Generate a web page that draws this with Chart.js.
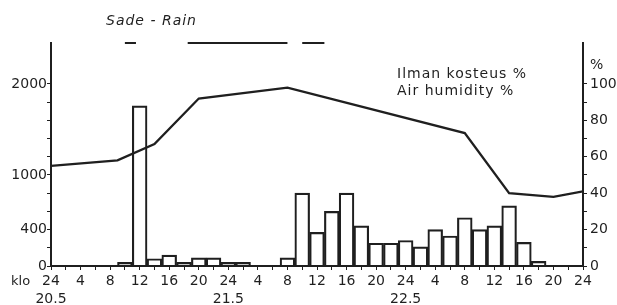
<!DOCTYPE html>
<html>
<head>
<meta charset="utf-8">
<script src="https://cdn.jsdelivr.net/npm/chart.js@4.4.1/dist/chart.umd.min.js"></script>
<style>
  html, body { margin: 0; padding: 0; background: #fff; }
  #wrap { width: 617px; height: 305px; position: relative; }
</style>
</head>
<body>
<div id="wrap"><canvas id="chart"></canvas></div>
<script>
// time in hours, 0 = klo 24 on 20.5, 72 = klo 24 on 22.5
var barHours = [0, 2, 4, 6, 8, 10, 12, 14, 16, 18, 20, 22, 24, 26, 28, 30, 32, 34, 36,
                38, 40, 42, 44, 46, 48, 50, 52, 54, 56, 58, 60, 62, 64, 66, 68, 70, 72];
var barValues = [0, 0, 0, 0, 0, 40, 1760, 80, 120, 40, 90, 90, 40, 40, 0, 0, 90, 800, 370,
                 600, 800, 440, 250, 250, 280, 210, 400, 330, 530, 400, 440, 660, 260, 50, 0, 0, 0];

var humHours  = [0, 9, 14, 20, 32, 56, 62, 68, 72];
var humValues = [55, 58, 67, 92, 98, 73, 40, 38, 41];

// rain periods (hours)
var rainStart = [10, 18.5, 34];
var rainEnd   = [11.5, 32, 37];

var leftLabels  = [0, 400, 1000, 2000];
var rightLabels = [0, 20, 40, 60, 80, 100];
var dayLabels = { 0: '20.5', 24: '21.5', 48: '22.5' };

var INK = '#1f1f1f';

var bars = [];
for (var i = 0; i < barHours.length; i++) bars.push({ x: barHours[i], y: barValues[i] });
var hum = [];
for (var i = 0; i < humHours.length; i++) hum.push({ x: humHours[i], y: humValues[i] });
var RAIN_Y = 122.5;
var rain = [];
for (var i = 0; i < rainStart.length; i++) {
  rain.push({ x: rainStart[i], y: RAIN_Y }, { x: rainEnd[i], y: RAIN_Y }, { x: rainEnd[i] + 0.01, y: null });
}

Chart.defaults.font.family = '"DejaVu Sans", sans-serif';
Chart.defaults.font.size = 14;
Chart.defaults.color = INK;

var notes = {
  id: 'notes',
  afterDraw: function(chart) {
    var ctx = chart.ctx;
    ctx.save();
    ctx.fillStyle = INK;
    ctx.textBaseline = 'middle';
    ctx.letterSpacing = '1px';
    ctx.font = 'italic 14px "DejaVu Sans"';
    ctx.fillText('Sade - Rain', 106, 21);
    ctx.font = '14px "DejaVu Sans"';
    ctx.fillText('Ilman kosteus %', 397, 74);
    ctx.fillText('Air humidity %', 397, 91);
    ctx.letterSpacing = '0px';
    ctx.font = '13px "DejaVu Sans"';
    ctx.fillText('klo', 11, 282);
    ctx.restore();
  }
};

window.onload = function() {
  var ctx = document.getElementById('chart').getContext('2d');
  window.theChart = new Chart(ctx, {
    type: 'bar',
    data: {
      datasets: [{
        type: 'line',
        label: 'Air humidity %',
        data: hum,
        yAxisID: 'yR',
        borderColor: INK,
        borderWidth: 2.3,
        pointRadius: 0,
        tension: 0,
        order: 1
      }, {
        type: 'line',
        label: 'Rain',
        data: rain,
        yAxisID: 'yR',
        borderColor: INK,
        borderWidth: 2,
        pointRadius: 0,
        spanGaps: false,
        clip: false,
        order: 1
      }, {
        label: 'bars',
        data: bars,
        yAxisID: 'yL',
        backgroundColor: 'rgba(255,255,255,0)',
        borderColor: INK,
        borderWidth: 1.5,
        categoryPercentage: 1,
        barPercentage: 1,
        order: 2
      }]
    },
    options: {
      responsive: true,
      maintainAspectRatio: false,
      animation: false,
      layout: { padding: { top: 43, left: 0, right: 0, bottom: 0 } },
      plugins: { legend: { display: false }, tooltip: { enabled: false } },
      scales: {
        x: {
          type: 'linear',
          min: 0,
          max: 72,
          offset: false,
          grid: { offset: false, drawOnChartArea: false, tickLength: 4, tickColor: INK },
          border: { display: true, color: INK, width: 2 },
          ticks: {
            stepSize: 2,
            autoSkip: false,
            maxRotation: 0,
            minRotation: 0,
            padding: 2,
            font: { size: 14, lineHeight: 1.3 },
            callback: function(v) {
              if (v % 4 !== 0) return '';
              var h = v % 24 === 0 ? 24 : v % 24;
              if (dayLabels[v]) return [String(h), dayLabels[v]];
              return String(h);
            }
          },
          afterFit: function(s) { s.height = 39; }
        },
        yL: {
          position: 'left',
          min: 0,
          max: 2450,
          grid: {
            drawOnChartArea: false,
            tickLength: 4,
            tickColor: function(c) { return c.tick && c.tick.value <= 2000 ? INK : 'rgba(0,0,0,0)'; }
          },
          border: { display: true, color: INK, width: 2 },
          ticks: {
            stepSize: 200,
            autoSkip: false,
            padding: 0,
            callback: function(v) { return leftLabels.indexOf(v) >= 0 ? String(v) : ''; }
          },
          afterFit: function(s) { s.width = 51; }
        },
        yR: {
          position: 'right',
          min: 0,
          max: 122.5,
          grid: {
            drawOnChartArea: false,
            tickLength: 4,
            tickColor: function(c) { return c.tick && c.tick.value <= 100 ? INK : 'rgba(0,0,0,0)'; }
          },
          border: { display: true, color: INK, width: 2 },
          ticks: {
            stepSize: 10,
            autoSkip: false,
            padding: 3,
            callback: function(v) {
              if (v === 110) return '%';
              return rightLabels.indexOf(v) >= 0 ? String(v) : '';
            }
          },
          afterFit: function(s) { s.width = 34; }
        }
      }
    },
    plugins: [notes]
  });
};
</script>
</body>
</html>
